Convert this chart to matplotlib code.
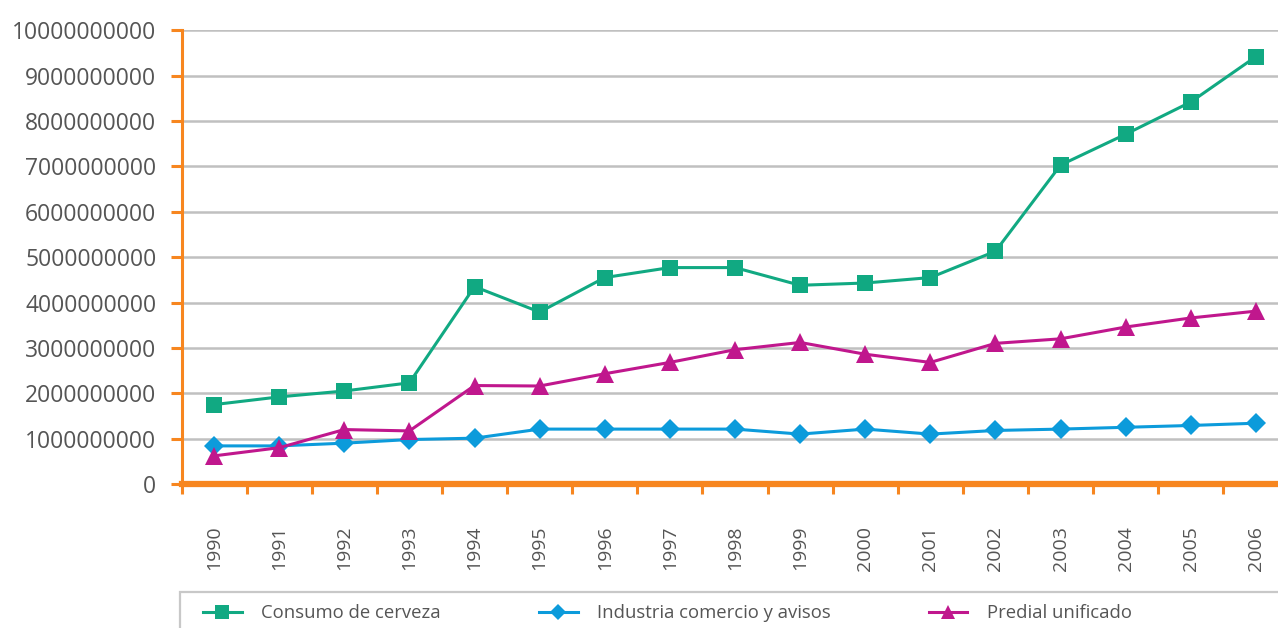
#!/usr/bin/env python3
"""Recaudo por impuesto 1990-2006: consumo de cerveza, ICA y predial."""

import matplotlib
matplotlib.use("Agg")
import matplotlib.patches as mpatches
import matplotlib.pyplot as plt
from matplotlib.ticker import FuncFormatter, MultipleLocator
import numpy as np

plt.rcParams["font.family"] = ["Open Sans", "DejaVu Sans"]

years = ["1990", "1991", "1992", "1993", "1994", "1995", "1996", "1997", "1998",
         "1999", "2000", "2001", "2002", "2003", "2004", "2005", "2006"]

consumo_cerveza = [1.75e9, 1.92e9, 2.05e9, 2.23e9, 4.35e9, 3.79e9, 4.55e9, 4.77e9, 4.77e9,
                   4.38e9, 4.43e9, 4.55e9, 5.13e9, 7.03e9, 7.71e9, 8.42e9, 9.42e9]
industria_comercio = [0.84e9, 0.84e9, 0.90e9, 0.98e9, 1.01e9, 1.21e9, 1.21e9, 1.21e9, 1.21e9,
                      1.10e9, 1.21e9, 1.10e9, 1.18e9, 1.21e9, 1.25e9, 1.29e9, 1.34e9]
predial_unificado = [0.62e9, 0.80e9, 1.20e9, 1.17e9, 2.17e9, 2.16e9, 2.43e9, 2.68e9, 2.96e9,
                     3.12e9, 2.86e9, 2.68e9, 3.10e9, 3.20e9, 3.46e9, 3.66e9, 3.81e9]

labels = ["Consumo de cerveza", "Industria comercio y avisos", "Predial unificado"]

GREEN = "#11a982"
BLUE = "#0c9bdb"
MAGENTA = "#c0178d"
ORANGE = "#f7861f"
GRID = "#c0c0c0"
TEXT = "#555555"

fig = plt.figure(figsize=(12.78, 6.28), dpi=100)
ax = fig.add_axes([181.5 / 1278, 144 / 628, 1107 / 1278, 453.7 / 628])

x = np.arange(len(years))
series = [
    (consumo_cerveza, GREEN, "s", 11.5),
    (industria_comercio, BLUE, "D", 10),
    (predial_unificado, MAGENTA, "^", 12.5),
]
handles = []
for (values, color, marker, ms), label in zip(series, labels):
    (line,) = ax.plot(x, values, color=color, lw=2.2, marker=marker, ms=ms,
                      markeredgewidth=0, label=label, zorder=3, clip_on=False)
    handles.append(line)

ax.set_xlim(-0.5, len(years) - 0.5)
ax.set_ylim(0, 1e10)
ax.yaxis.set_major_locator(MultipleLocator(1e9))
ax.yaxis.set_major_formatter(FuncFormatter(lambda v, _: f"{int(round(v))}"))
ax.grid(axis="y", color=GRID, lw=1.8, zorder=0)
ax.set_axisbelow(True)

ax.set_xticks(x)
ax.set_xticklabels(years, rotation=90, fontsize=14, color=TEXT)
ax.set_xticks(np.arange(-0.5, len(years), 1.0), minor=True)
ax.tick_params(axis="x", which="major", length=0, pad=30)
ax.tick_params(axis="x", which="minor", length=7, width=2.2, color=ORANGE, direction="out")
ax.tick_params(axis="y", length=8, width=2.2, color=ORANGE, labelsize=16.5,
               labelcolor=TEXT, pad=10)

for side in ("top", "right"):
    ax.spines[side].set_visible(False)
ax.spines["left"].set_color(ORANGE)
ax.spines["left"].set_linewidth(2.2)
ax.spines["bottom"].set_color(ORANGE)
ax.spines["bottom"].set_linewidth(4.5)
ax.spines["bottom"].set_zorder(4)

# legend frame: only top and left edges visible inside the figure
fig.patches.append(mpatches.Rectangle((180 / 1278, -0.2), 1.0, 0.2 + 36 / 628,
                                      transform=fig.transFigure, fill=False,
                                      edgecolor="#c8c8c8", lw=1.6))

leg = fig.legend(handles=handles, loc="center left", ncol=3,
                 bbox_to_anchor=(203 / 1278, 15 / 628), frameon=False,
                 fontsize=13.3, handlelength=2.1, handletextpad=1.05,
                 columnspacing=5.3, borderpad=0, borderaxespad=0, markerscale=0.85)
for t in leg.get_texts():
    t.set_color(TEXT)

fig.savefig("out.png", dpi=100)
